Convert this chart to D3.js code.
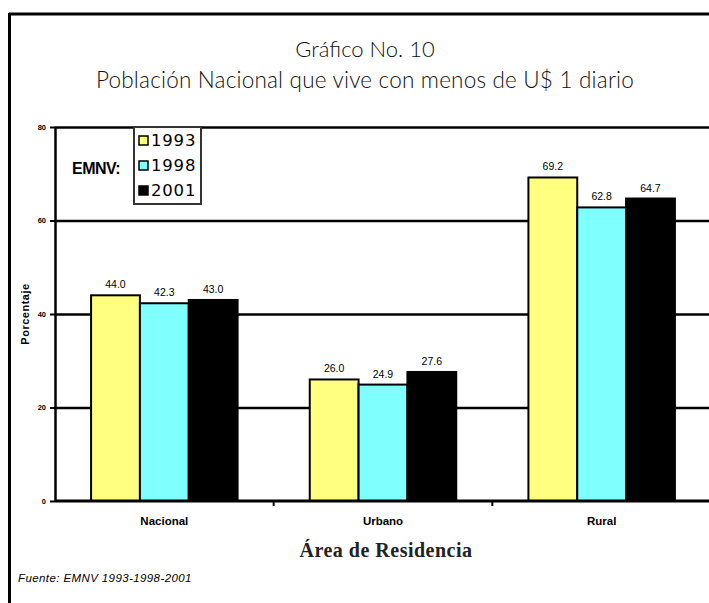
<!DOCTYPE html>
<html>
<head>
<meta charset="utf-8">
<script src="https://cdn.jsdelivr.net/npm/d3@7"></script>
<style>
  body { margin: 0; background: #fff; }
  svg { display: block; }
</style>
</head>
<body>
<div id="chart"></div>
<script>
// data
var categories = ['Nacional', 'Urbano', 'Rural'];
var years = ['1993', '1998', '2001'];
var values1993 = [44.0, 26.0, 69.2];
var values1998 = [42.3, 24.9, 62.8];
var values2001 = [43.0, 27.6, 64.7];
var yTicks = [0, 20, 40, 60, 80];

var series = [values1993, values1998, values2001];
var colors = ['#FFFF80', '#80FFFF', '#000000'];

var width = 709, height = 603;
var m = { l: 55, r: -2, t: 127, b: 102 };

var svg = d3.select('#chart').append('svg')
  .attr('width', width)
  .attr('height', height);

// page frame
svg.append('line')
  .attr('x1', 9).attr('x2', width).attr('y1', 14).attr('y2', 14)
  .attr('stroke', '#000').attr('stroke-width', 3);
svg.append('line')
  .attr('x1', 9.5).attr('x2', 9.5).attr('y1', 13).attr('y2', height)
  .attr('stroke', '#000').attr('stroke-width', 3);

// titles
svg.append('text')
  .attr('x', 365).attr('y', 57)
  .attr('text-anchor', 'middle')
  .style('font-family', 'Lato, sans-serif')
  .style('font-weight', '300')
  .style('font-size', '22px')
  .style('fill', '#111')
  .text('Gráfico No. 10');
svg.append('text')
  .attr('x', 365).attr('y', 88)
  .attr('text-anchor', 'middle')
  .style('font-family', 'Lato, sans-serif')
  .style('font-weight', '300')
  .style('font-size', '22.5px')
  .style('letter-spacing', '0.2px')
  .style('fill', '#111')
  .text('Población Nacional que vive con menos de U$ 1 diario');

var yScale = d3.scaleLinear()
  .domain([0, 80])
  .range([height - m.b, m.t]);

var x0 = d3.scaleBand()
  .domain(categories)
  .range([m.l, width - m.r])
  .paddingInner(0.33)
  .paddingOuter(0.165);

var x1 = d3.scaleBand()
  .domain(years)
  .range([0, x0.bandwidth()]);

// grid lines
var grid = svg.append('g')
  .attr('class', 'grid')
  .attr('transform', 'translate(' + m.l + ',0)')
  .call(d3.axisRight(yScale).tickValues(yTicks.slice(1)).tickSize(width - m.l - m.r).tickFormat(''));
grid.select('.domain').remove();
grid.selectAll('line').attr('stroke', '#000').attr('stroke-width', 2.5);

// bars
var groups = svg.append('g')
  .attr('class', 'bars')
  .selectAll('g')
  .data(categories)
  .enter()
  .append('g')
  .attr('transform', function (d) { return 'translate(' + x0(d) + ',0)'; });

groups.selectAll('rect')
  .data(function (d, i) {
    return years.map(function (y, j) { return { year: y, value: series[j][i], color: colors[j] }; });
  })
  .enter()
  .append('rect')
  .attr('x', function (d) { return x1(d.year); })
  .attr('y', function (d) { return yScale(d.value); })
  .attr('width', x1.bandwidth())
  .attr('height', function (d) { return yScale(0) - yScale(d.value); })
  .attr('fill', function (d) { return d.color; })
  .attr('stroke', '#000')
  .attr('stroke-width', 2);

groups.selectAll('text')
  .data(function (d, i) {
    return years.map(function (y, j) { return { year: y, value: series[j][i] }; });
  })
  .enter()
  .append('text')
  .attr('x', function (d) { return x1(d.year) + x1.bandwidth() / 2; })
  .attr('y', function (d) { return yScale(d.value) - 7; })
  .attr('text-anchor', 'middle')
  .style('font-family', 'Arial, sans-serif')
  .style('font-size', '10.5px')
  .text(function (d) { return d3.format('.1f')(d.value); });

// y axis
var yAxis = svg.append('g')
  .attr('class', 'y-axis')
  .attr('transform', 'translate(' + m.l + ',0)')
  .call(d3.axisLeft(yScale).tickValues(yTicks).tickSize(5).tickSizeOuter(0).tickPadding(4));
yAxis.select('.domain').attr('stroke-width', 2.5);
yAxis.selectAll('line').attr('stroke-width', 2);
yAxis.selectAll('text')
  .style('font-family', 'Arial, sans-serif')
  .style('font-size', '7.5px')
  .style('font-weight', 'bold');

// x axis
var xAxis = svg.append('g')
  .attr('class', 'x-axis')
  .attr('transform', 'translate(0,' + yScale(0) + ')');
xAxis.append('line')
  .attr('x1', m.l).attr('x2', width)
  .attr('stroke', '#000').attr('stroke-width', 3);
xAxis.selectAll('.sep')
  .data(categories.slice(1))
  .enter()
  .append('line')
  .attr('class', 'sep')
  .attr('x1', function (d) { return x0(d) - x0.step() * x0.paddingInner() / 2; })
  .attr('x2', function (d) { return x0(d) - x0.step() * x0.paddingInner() / 2; })
  .attr('y1', 0).attr('y2', 5)
  .attr('stroke', '#000').attr('stroke-width', 2);
xAxis.selectAll('.cat')
  .data(categories)
  .enter()
  .append('text')
  .attr('class', 'cat')
  .attr('x', function (d) { return x0(d) + x0.bandwidth() / 2; })
  .attr('y', 24)
  .attr('text-anchor', 'middle')
  .style('font-family', 'Arial, sans-serif')
  .style('font-size', '11.5px')
  .style('font-weight', 'bold')
  .text(function (d) { return d; });

// axis titles
svg.append('text')
  .attr('transform', 'translate(29,' + yScale(40) + ') rotate(-90)')
  .attr('text-anchor', 'middle')
  .style('font-family', 'Arial, sans-serif')
  .style('font-size', '11px')
  .style('font-weight', 'bold')
  .style('letter-spacing', '0.5px')
  .text('Porcentaje');

svg.append('text')
  .attr('x', 386).attr('y', 557)
  .attr('text-anchor', 'middle')
  .style('font-family', '"Liberation Serif", serif')
  .style('font-size', '20px')
  .style('font-weight', 'bold')
  .style('letter-spacing', '0.5px')
  .style('fill', '#222')
  .text('Área de Residencia');

svg.append('text')
  .attr('x', 18).attr('y', 582)
  .style('font-family', 'Arial, sans-serif')
  .style('font-size', '11.5px')
  .style('font-style', 'italic')
  .style('letter-spacing', '0.4px')
  .text('Fuente: EMNV 1993-1998-2001');

// legend
svg.append('text')
  .attr('x', 72).attr('y', 174)
  .style('font-family', 'Arial, sans-serif')
  .style('font-size', '16px')
  .style('font-weight', 'bold')
  .style('letter-spacing', '-0.5px')
  .text('EMNV:');

var legend = svg.append('g')
  .attr('class', 'legend')
  .attr('transform', 'translate(134,127)');
legend.append('rect')
  .attr('x', 0).attr('y', 0)
  .attr('width', 67).attr('height', 77)
  .attr('fill', '#fff')
  .attr('stroke', '#333')
  .attr('stroke-width', 2);
var items = legend.selectAll('.item')
  .data(years)
  .enter()
  .append('g')
  .attr('class', 'item')
  .attr('transform', function (d, i) { return 'translate(5,' + (17 + i * 25) + ')'; });
items.append('rect')
  .attr('x', 0).attr('y', -8)
  .attr('width', 9).attr('height', 9)
  .attr('fill', function (d, i) { return colors[i]; })
  .attr('stroke', '#000')
  .attr('stroke-width', 1.5);
items.append('text')
  .attr('x', 12).attr('y', 2)
  .style('font-family', '"DejaVu Sans", sans-serif')
  .style('font-size', '16.5px')
  .style('letter-spacing', '0.8px')
  .text(function (d) { return d; });
</script>
</body>
</html>
